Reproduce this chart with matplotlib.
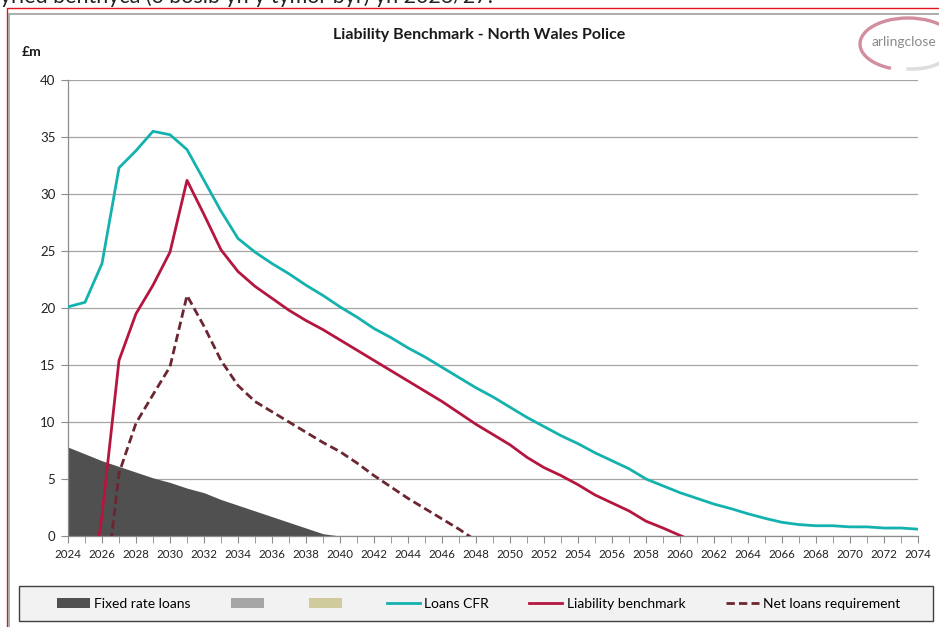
import numpy as np
import matplotlib
matplotlib.use("Agg")
import matplotlib.pyplot as plt
from matplotlib.patches import Patch, Rectangle, Arc
from matplotlib.lines import Line2D

plt.rcParams['font.family'] = ['Lato', 'DejaVu Sans']

years = np.arange(2024, 2075)

# Fixed rate loans (£m), runs off to zero by 2040
fixed_rate = [7.8, 7.2, 6.6, 6.1, 5.6, 5.1, 4.7, 4.2, 3.8, 3.2,
              2.7, 2.2, 1.7, 1.2, 0.7, 0.2, 0.0] + [0.0] * 34

# Loans CFR
loans_cfr = [20.1, 20.5, 23.9, 32.3, 33.8, 35.5, 35.2, 33.9, 31.2, 28.5,
             26.1, 24.9, 23.9, 23.0, 22.0, 21.1, 20.1, 19.2, 18.2, 17.4,
             16.5, 15.7, 14.8, 13.9, 13.0, 12.2, 11.3, 10.4, 9.6, 8.8,
             8.1, 7.3, 6.6, 5.9, 5.0, 4.4, 3.8, 3.3, 2.8, 2.4,
             1.95, 1.55, 1.2, 1.0, 0.9, 0.9, 0.8, 0.8, 0.7, 0.7, 0.6]

# Liability benchmark (negative early values fall below the axis)
liability = [-10.0, -8.8, 1.8, 15.4, 19.5, 22.0, 24.9, 31.2, 28.2, 25.1,
             23.2, 21.9, 20.85, 19.8, 18.9, 18.1, 17.2, 16.3, 15.4, 14.5,
             13.6, 12.7, 11.8, 10.8, 9.8, 8.9, 8.0, 6.9, 6.0, 5.3,
             4.5, 3.6, 2.9, 2.2, 1.3, 0.7, 0.05, -0.6] + [np.nan] * 13

# Net loans requirement
net_loans = [np.nan, -20.0, -7.3, 5.5, 9.9, 12.4, 14.85, 21.1, 18.4, 15.4,
             13.2, 11.8, 10.9, 10.0, 9.1, 8.2, 7.4, 6.4, 5.3, 4.3,
             3.3, 2.4, 1.5, 0.6, -0.4] + [np.nan] * 26

title = 'Liability Benchmark - North Wales Police'

c_fixed = '#505050'
c_cfr = '#14b2ae'
c_lb = '#b5163f'
c_net = '#6b2631'
c_grid = '#a6a6a6'

fig = plt.figure(figsize=(9.39, 6.27), dpi=100)
W, H = 939, 627

def fx(px):
    return px / W

def fy(py):
    return 1 - py / H

# sentence cut off at the top of the screenshot
fig.text(0.0, fy(3), 'yried benthyca (o bosib yn y tymor byr) yn 2026/27.',
         fontsize=15.5, va='baseline', ha='left', color='#222222')

# red frame and grey chart border
fig.add_artist(Rectangle((fx(6.5), fy(700)), 1.2, fy(8) - fy(700),
                         transform=fig.transFigure, fill=False,
                         edgecolor='#e8141c', lw=1.0))
fig.add_artist(Rectangle((fx(9), fy(700)), 1.2, fy(13.5) - fy(700),
                         transform=fig.transFigure, fill=False,
                         edgecolor='#a0a0a0', lw=1.2))

ax = fig.add_axes([fx(68), fy(536), fx(918) - fx(68), fy(80) - fy(536)])

ax.fill_between(years, 0, fixed_rate, color=c_fixed, lw=0, zorder=2)
ax.plot(years, loans_cfr, color=c_cfr, lw=2.0, zorder=4)
ax.plot(years, liability, color=c_lb, lw=2.0, zorder=4)
ax.plot(years, net_loans, color=c_net, lw=2.0, ls=(0, (3.0, 1.5)), zorder=4)

ax.set_xlim(2024, 2074)
ax.set_ylim(0, 40)
ax.set_yticks(np.arange(0, 41, 5))
ax.set_xticks(years, minor=True)
ax.set_xticks(np.arange(2024, 2075, 2))
ax.yaxis.grid(True, color=c_grid, lw=0.9, zorder=1)
ax.set_axisbelow(True)
for s in ['top', 'right']:
    ax.spines[s].set_visible(False)
for s in ['left', 'bottom']:
    ax.spines[s].set_color('#8c8c8c')
    ax.spines[s].set_linewidth(0.9)
    ax.spines[s].set_zorder(3)
ax.tick_params(axis='y', length=5, color='#8c8c8c', labelsize=9.5,
               labelcolor='#222222', pad=4)
ax.tick_params(axis='x', which='both', length=5, color='#8c8c8c',
               labelsize=8.3, labelcolor='#222222', pad=4)
ax.tick_params(axis='x', which='minor', labelbottom=False)

fig.text(fx(479), fy(35), title, fontsize=11.5, fontweight='bold',
         ha='center', va='center', color='#1a1a1a')
fig.text(fx(22), fy(52), '£m', fontsize=10, fontweight='bold',
         ha='left', va='center', color='#1a1a1a')

# arlingclose logo
lax = fig.add_axes([fx(850), fy(80), fx(939) - fx(850), fy(12) - fy(80)])
lax.set_xlim(0, 89)
lax.set_ylim(0, 68)
lax.axis('off')
lax.add_patch(Arc((58, 36), 96, 52, theta1=22, theta2=235,
                  color='#c97a8e', lw=2.4, alpha=0.85))
lax.add_patch(Arc((62, 32), 80, 42, theta1=255, theta2=350,
                  color='#dedede', lw=2.6))
lax.text(54, 38, 'arlingclose', fontsize=10, color='#8a8a8a',
         ha='center', va='center')

# legend box
fig.add_artist(Rectangle((fx(18.5), fy(621)), fx(933) - fx(18.5),
                         fy(586) - fy(621), transform=fig.transFigure,
                         facecolor='#f2f2f2', edgecolor='#404040', lw=1.0))
handles = [Patch(facecolor=c_fixed),
           Patch(facecolor='#a6a6a6'),
           Patch(facecolor='#cfcb9c'),
           Line2D([], [], color=c_cfr, lw=2.0),
           Line2D([], [], color=c_lb, lw=2.0),
           Line2D([], [], color=c_net, lw=2.0, ls=(0, (3.0, 1.5)))]
labels = ['Fixed rate loans', '', '', 'Loans CFR', 'Liability benchmark',
          'Net loans requirement']
fig.legend(handles, labels, ncol=6, loc='center',
           bbox_to_anchor=(fx(478.5), fy(603.5)), frameon=False,
           fontsize=10, handlelength=2.4, handletextpad=0.3,
           columnspacing=2.9, handleheight=0.75)

fig.savefig('out.png', dpi=100)
